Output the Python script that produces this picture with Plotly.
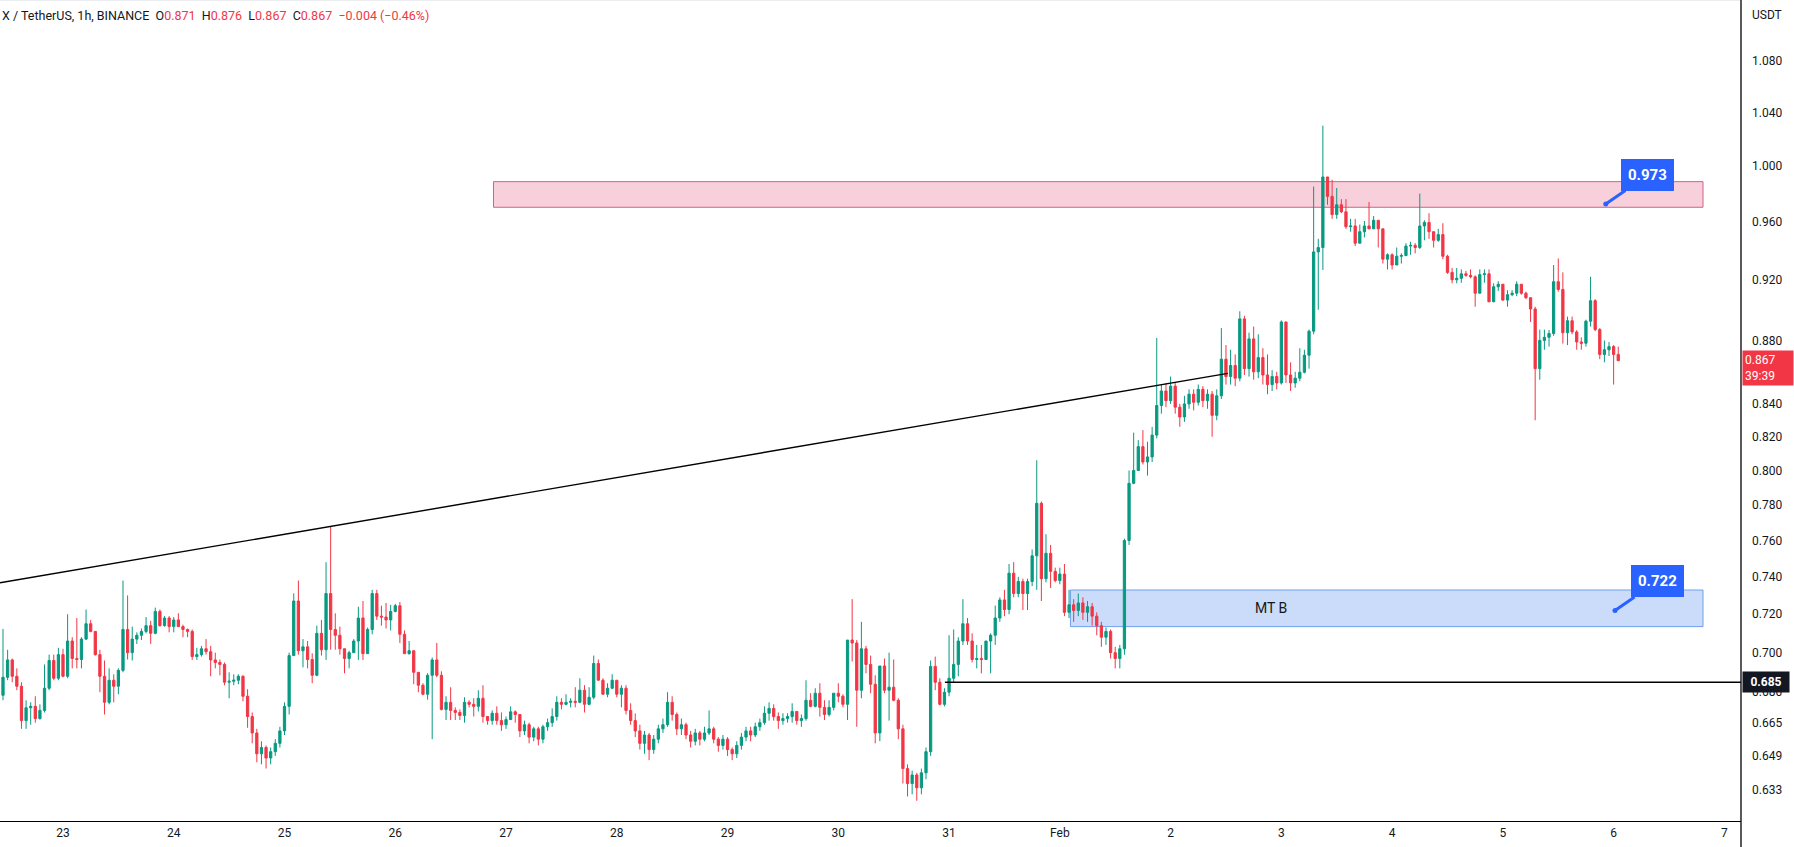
import numpy as np
import pandas as pd
import plotly.graph_objects as go

# ---------------- data (hourly candles) ----------------
FIRST_CANDLE = "2022-01-22 11:00"
OPEN0 = 0.6785

closes = [
 .6875,.6963,.688,.683,.666,.6723,.673,.667,.671,.682,.696,.687,.699,.688,.706,.697,.6965,.707,.715,.711,
 .699,.688,.675,.686,.683,.691,.712,.700,.707,.709,.711,.714,.710,.7215,.714,.718,.7135,.717,.7135,.712,
 .711,.698,.699,.702,.7005,.6963,.695,.694,.685,.6855,.686,.688,.678,.668,.660,.650,.653,.648,.651,.655,
 .661,.673,.6985,.727,.701,.703,.6965,.6885,.710,.7015,.731,.712,.709,.702,.697,.700,.706,.718,.6995,.712,
 .731,.719,.7185,.717,.7215,.7245,.7095,.6995,.701,.690,.6835,.679,.6885,.6963,.6885,.6715,.675,.671,.670,.6685,
 .675,.674,.673,.677,.668,.666,.6696,.666,.664,.6665,.6703,.669,.661,.664,.658,.662,.657,.663,.665,.668,
 .675,.674,.675,.6755,.675,.681,.674,.6775,.6945,.686,.679,.682,.686,.679,.682,.671,.666,.661,.655,.659,
 .652,.657,.662,.664,.675,.669,.662,.664,.659,.656,.660,.657,.660,.662,.657,.654,.657,.652,.650,.654,
 .658,.661,.659,.663,.665,.6696,.672,.668,.666,.667,.668,.6705,.666,.667,.676,.673,.6795,.6725,.669,.6725,
 .6795,.678,.674,.7065,.705,.681,.702,.694,.684,.660,.6932,.681,.6825,.676,.662,.643,.636,.640,.634,.641,
 .651,.693,.685,.674,.680,.687,.694,.706,.715,.706,.6965,.697,.6965,.706,.709,.718,.7276,.7225,.742,.731,
 .7375,.731,.7375,.7515,.781,.739,.7529,.743,.738,.7415,.721,.725,.722,.726,.721,.724,.719,.714,.708,.711,
 .700,.697,.702,.760,.7925,.800,.8141,.805,.808,.821,.839,.848,.842,.851,.838,.832,.840,.846,.841,.849,
 .842,.846,.833,.845,.868,.857,.864,.856,.894,.862,.881,.860,.869,.858,.852,.857,.853,.892,.858,.853,
 .856,.8597,.8705,.886,.939,.942,.992,.978,.965,.972,.967,.9565,.957,.945,.953,.957,.955,.961,.955,.934,
 .937,.930,.936,.9365,.943,.9435,.942,.957,.9595,.953,.947,.951,.936,.925,.920,.921,.924,.923,.922,.911,
 .9235,.924,.9053,.9153,.917,.9064,.910,.911,.917,.911,.908,.9005,.862,.880,.882,.8845,.9187,.9135,.885,.8928,
 .8855,.879,.8782,.8925,.906,.887,.871,.874,.876,.871,.867]

highs = [
 .7123,.7015,.697,.692,.685,.676,.675,.678,.674,.694,.699,.699,.7025,.702,.720,.708,.718,.708,.7225,.717,
 .711,.7015,.696,.692,.689,.692,.738,.730,.7135,.7105,.7125,.7185,.7165,.7235,.7225,.719,.719,.7185,.7205,.7145,
 .7125,.712,.7025,.7035,.707,.7035,.700,.6965,.695,.690,.689,.689,.6885,.6815,.670,.662,.656,.654,.653,.657,
 .663,.675,.700,.7311,.738,.707,.706,.6997,.714,.717,.748,.768,.7205,.7135,.702,.701,.707,.724,.727,.713,
 .733,.733,.7245,.726,.725,.7255,.7265,.7115,.706,.701,.690,.6845,.6895,.6975,.705,.6905,.678,.6825,.6725,.6715,
 .6775,.676,.677,.681,.6835,.668,.671,.673,.670,.668,.673,.671,.669,.666,.665,.663,.663,.664,.667,.672,
 .678,.677,.679,.677,.6825,.687,.6835,.6825,.6985,.6965,.687,.6845,.689,.686,.6835,.6835,.6745,.6695,.664,.661,
 .660,.659,.664,.667,.680,.678,.670,.667,.665,.661,.662,.661,.663,.671,.663,.658,.659,.658,.653,.656,
 .660,.663,.663,.665,.667,.673,.675,.674,.670,.6696,.6696,.6745,.6705,.669,.686,.6795,.682,.6845,.676,.676,
 .6795,.6845,.679,.7065,.728,.7065,.716,.7035,.6985,.6885,.6932,.697,.700,.6965,.677,.664,.645,.642,.641,.643,
 .653,.696,.698,.687,.682,.709,.712,.708,.728,.718,.710,.704,.704,.706,.710,.7246,.729,.733,.747,.748,
 .740,.739,.739,.755,.806,.782,.7635,.7575,.745,.745,.747,.733,.728,.731,.729,.727,.726,.721,.716,.713,
 .712,.703,.704,.761,.800,.8225,.818,.824,.817,.826,.8816,.852,.853,.857,.853,.840,.845,.849,.849,.852,
 .851,.849,.848,.849,.888,.877,.874,.871,.899,.896,.885,.889,.884,.875,.871,.861,.860,.893,.892,.866,
 .860,.875,.874,.887,.985,.948,1.030,.992,.990,.984,.976,.976,.962,.962,.958,.9605,.974,.964,.961,.955,
 .938,.938,.942,.938,.945,.946,.945,.980,.961,.966,.953,.955,.9589,.937,.928,.928,.927,.926,.927,.923,
 .927,.927,.927,.9176,.919,.917,.913,.913,.919,.917,.912,.908,.902,.887,.887,.8867,.930,.9345,.925,.8955,
 .8955,.8867,.882,.8935,.922,.907,.888,.880,.879,.877,.876]

lows = [
 .676,.686,.685,.681,.662,.662,.664,.665,.6665,.670,.681,.686,.686,.6875,.687,.692,.692,.692,.7065,.7105,
 .6985,.680,.669,.674,.675,.679,.690,.6965,.696,.7045,.7065,.710,.7045,.7095,.7135,.7135,.7105,.7105,.7135,.708,
 .708,.6963,.6963,.698,.699,.688,.692,.6885,.6835,.677,.6835,.684,.6755,.6625,.655,.646,.645,.643,.645,.649,
 .653,.659,.669,.6985,.699,.6925,.692,.6845,.688,.6985,.6963,.7015,.7015,.699,.6895,.692,.700,.6963,.6963,.6995,
 .7095,.717,.714,.7125,.7115,.721,.705,.6995,.699,.684,.680,.6785,.6763,.657,.6875,.671,.6663,.6663,.6663,.6663,
 .665,.6725,.668,.6705,.665,.664,.664,.664,.661,.662,.6663,.665,.658,.659,.655,.656,.654,.655,.661,.663,
 .666,.6715,.6735,.6725,.6725,.6745,.670,.6735,.6765,.686,.679,.6775,.6815,.6775,.6725,.669,.664,.658,.652,.650,
 .647,.650,.655,.660,.663,.666,.659,.659,.657,.653,.654,.654,.656,.659,.655,.651,.652,.649,.647,.648,
 .652,.656,.656,.658,.661,.664,.666,.666,.662,.664,.665,.665,.664,.663,.666,.6725,.6725,.668,.6663,.668,
 .671,.675,.6725,.6663,.6955,.663,.677,.6895,.6795,.655,.656,.6795,.666,.6755,.657,.636,.630,.631,.628,.631,
 .638,.649,.681,.6735,.673,.678,.685,.688,.704,.704,.695,.692,.6895,.6965,.6895,.704,.716,.719,.720,.729,
 .729,.7222,.7222,.735,.733,.727,.737,.734,.737,.736,.719,.718,.716,.719,.717,.716,.714,.709,.703,.704,
 .697,.692,.692,.699,.7575,.792,.800,.8035,.797,.805,.819,.834,.838,.840,.834,.826,.829,.837,.836,.839,
 .838,.837,.820,.830,.843,.852,.852,.851,.854,.858,.857,.855,.856,.852,.846,.848,.849,.852,.853,.848,
 .850,.854,.859,.862,.884,.900,.9266,.972,.962,.962,.966,.955,.953,.943,.945,.949,.955,.955,.942,.931,
 .927,.927,.930,.931,.936,.937,.938,.941,.947,.948,.942,.946,.934,.924,.9176,.9176,.918,.922,.921,.902,
 .911,.918,.905,.905,.9125,.906,.902,.909,.909,.910,.907,.892,.830,.855,.874,.876,.883,.912,.878,.877,
 .884,.874,.874,.876,.889,.886,.868,.866,.870,.852,.867]

times = pd.date_range(FIRST_CANDLE, periods=len(closes), freq="h")
opens = [OPEN0] + closes[:-1]

# axis ticks
price_ticks = [1.080, 1.040, 1.000, 0.960, 0.920, 0.880, 0.840, 0.820, 0.800, 0.780,
               0.760, 0.740, 0.720, 0.700, 0.680, 0.665, 0.649, 0.633]
day_ticks = pd.date_range("2022-01-23", "2022-02-07", freq="D")
day_labels = ["23", "24", "25", "26", "27", "28", "29", "30", "31", "Feb",
              "2", "3", "4", "5", "6", "7"]

# drawings
trend_x = ["2022-01-22 10:21", "2022-02-02 12:24"]
trend_y = [0.7368, 0.8590]
support_level = 0.685
support_x = ["2022-01-30 23:06", "2022-02-07 03:36"]
resist_box = dict(x0="2022-01-26 21:17", x1="2022-02-06 19:22", y0=0.9702, y1=0.9886)
mtb_box = dict(x0="2022-02-01 02:18", x1="2022-02-06 19:22", y0=0.7135, y1=0.7329)
callouts = [("2022-02-05 22:18", 0.9725, "0.973"), ("2022-02-06 00:18", 0.722, "0.722")]
last_price = 0.867
countdown = "39:39"

X_RANGE = ["2022-01-22 10:21", "2022-02-07 03:36"]
Y_RANGE = [0.61876, 1.12937]

GREEN = "#089981"
RED = "#F23645"
TXT = "#131722"
FONT = "Roboto"

fig = go.Figure()
fig.add_trace(go.Candlestick(
    x=times, open=opens, high=highs, low=lows, close=closes,
    increasing=dict(line=dict(color=GREEN, width=1), fillcolor=GREEN),
    decreasing=dict(line=dict(color=RED, width=1), fillcolor=RED),
    whiskerwidth=0, hoverinfo="skip", showlegend=False))

fig.add_trace(go.Scatter(x=trend_x, y=trend_y, mode="lines",
                         line=dict(color="#000000", width=1.4),
                         hoverinfo="skip", showlegend=False))
fig.add_trace(go.Scatter(x=support_x, y=[support_level, support_level], mode="lines",
                         line=dict(color="#000000", width=1.4),
                         hoverinfo="skip", showlegend=False))
fig.add_trace(go.Scatter(x=[c[0] for c in callouts], y=[c[1] for c in callouts],
                         mode="markers", marker=dict(color="#2962FF", size=5),
                         hoverinfo="skip", showlegend=False))

shapes = [
    dict(type="rect", xref="x", yref="y", layer="below",
         fillcolor="#F8D0DC", line=dict(color="#D0628A", width=1), **resist_box),
    dict(type="rect", xref="x", yref="y", layer="below",
         fillcolor="#CADCFA", line=dict(color="#6FA0F0", width=1), **mtb_box),
    dict(type="line", xref="paper", yref="paper", x0=0, x1=1, y0=1, y1=1,
         line=dict(color="#D9DCE3", width=1)),
    dict(type="line", xref="paper", yref="paper", x0=1, x1=1, y0=-0.04, y1=1,
         line=dict(color="#000000", width=1.3)),
]

annotations = []
hdr = (f'<span style="color:{TXT}">X / TetherUS, 1h, BINANCE</span>&nbsp;&nbsp;'
       f'<span style="color:{TXT}">O</span><span style="color:{RED}">0.871</span>&nbsp;&nbsp;'
       f'<span style="color:{TXT}">H</span><span style="color:{RED}">0.876</span>&nbsp;&nbsp;'
       f'<span style="color:{TXT}">L</span><span style="color:{RED}">0.867</span>&nbsp;&nbsp;'
       f'<span style="color:{TXT}">C</span><span style="color:{RED}">0.867</span>&nbsp;&nbsp;'
       f'<span style="color:{RED}">\u22120.004 (\u22120.46%)</span>')
annotations.append(dict(xref="paper", yref="paper", x=0, y=1, xanchor="left", yanchor="top",
                        yshift=-6, text=hdr, showarrow=False, font=dict(family=FONT, size=12.5)))
annotations.append(dict(xref="paper", yref="paper", x=1, y=1, xanchor="left", yanchor="top",
                        xshift=9, yshift=-6, text="USDT", showarrow=False,
                        font=dict(family=FONT, size=12, color=TXT)))
# MT B label
annotations.append(dict(xref="x", yref="y", x="2022-02-02 21:48", y=np.log10(0.7231),
                        text="MT B", showarrow=False, font=dict(family=FONT, size=14, color=TXT)))
# callouts
for t, v, lab in callouts:
    annotations.append(dict(xref="x", yref="y", x=t, y=np.log10(v), text=f"<b>{lab}</b>",
                            showarrow=True, arrowhead=0, arrowwidth=3, arrowcolor="#2962FF",
                            ax=42, ay=-29, bgcolor="#2962FF", bordercolor="#2962FF",
                            borderpad=6, font=dict(family=FONT, size=15, color="white")))
# axis price labels
annotations.append(dict(xref="paper", yref="y", x=1, y=np.log10(support_level), xanchor="left",
                        yanchor="middle", xshift=1, text="<b>0.685</b>", showarrow=False,
                        bgcolor=TXT, borderpad=3, width=40,
                        font=dict(family=FONT, size=12, color="white")))
annotations.append(dict(xref="paper", yref="y", x=1, y=np.log10(0.8624), xanchor="left",
                        yanchor="middle", xshift=1, text=f"{last_price:.3f}<br>{countdown}",
                        showarrow=False, bgcolor=RED, borderpad=2, width=46, align="left",
                        font=dict(family=FONT, size=12, color="white")))

fig.update_layout(
    width=1794, height=847,
    margin=dict(l=0, r=53, t=0, b=26),
    paper_bgcolor="white", plot_bgcolor="white",
    shapes=shapes, annotations=annotations,
    font=dict(family=FONT, size=12, color=TXT),
    xaxis=dict(type="date", range=X_RANGE, rangeslider=dict(visible=False),
               tickvals=day_ticks, ticktext=day_labels, showgrid=False, zeroline=False,
               showline=True, linecolor="#000000", linewidth=1.3, ticks="",
               tickfont=dict(family=FONT, size=12, color=TXT)),
    yaxis=dict(type="log", side="right", range=[np.log10(Y_RANGE[0]), np.log10(Y_RANGE[1])],
               tickvals=price_ticks, ticktext=[f"{v:.3f}" for v in price_ticks],
               showgrid=False, zeroline=False, showline=False, ticks="",
               ticklabelstandoff=10, tickfont=dict(family=FONT, size=12, color=TXT)),
    hovermode=False,
)

fig.write_html("out.html", config={"displayModeBar": False},
               post_script="document.body.style.margin='0px';")
